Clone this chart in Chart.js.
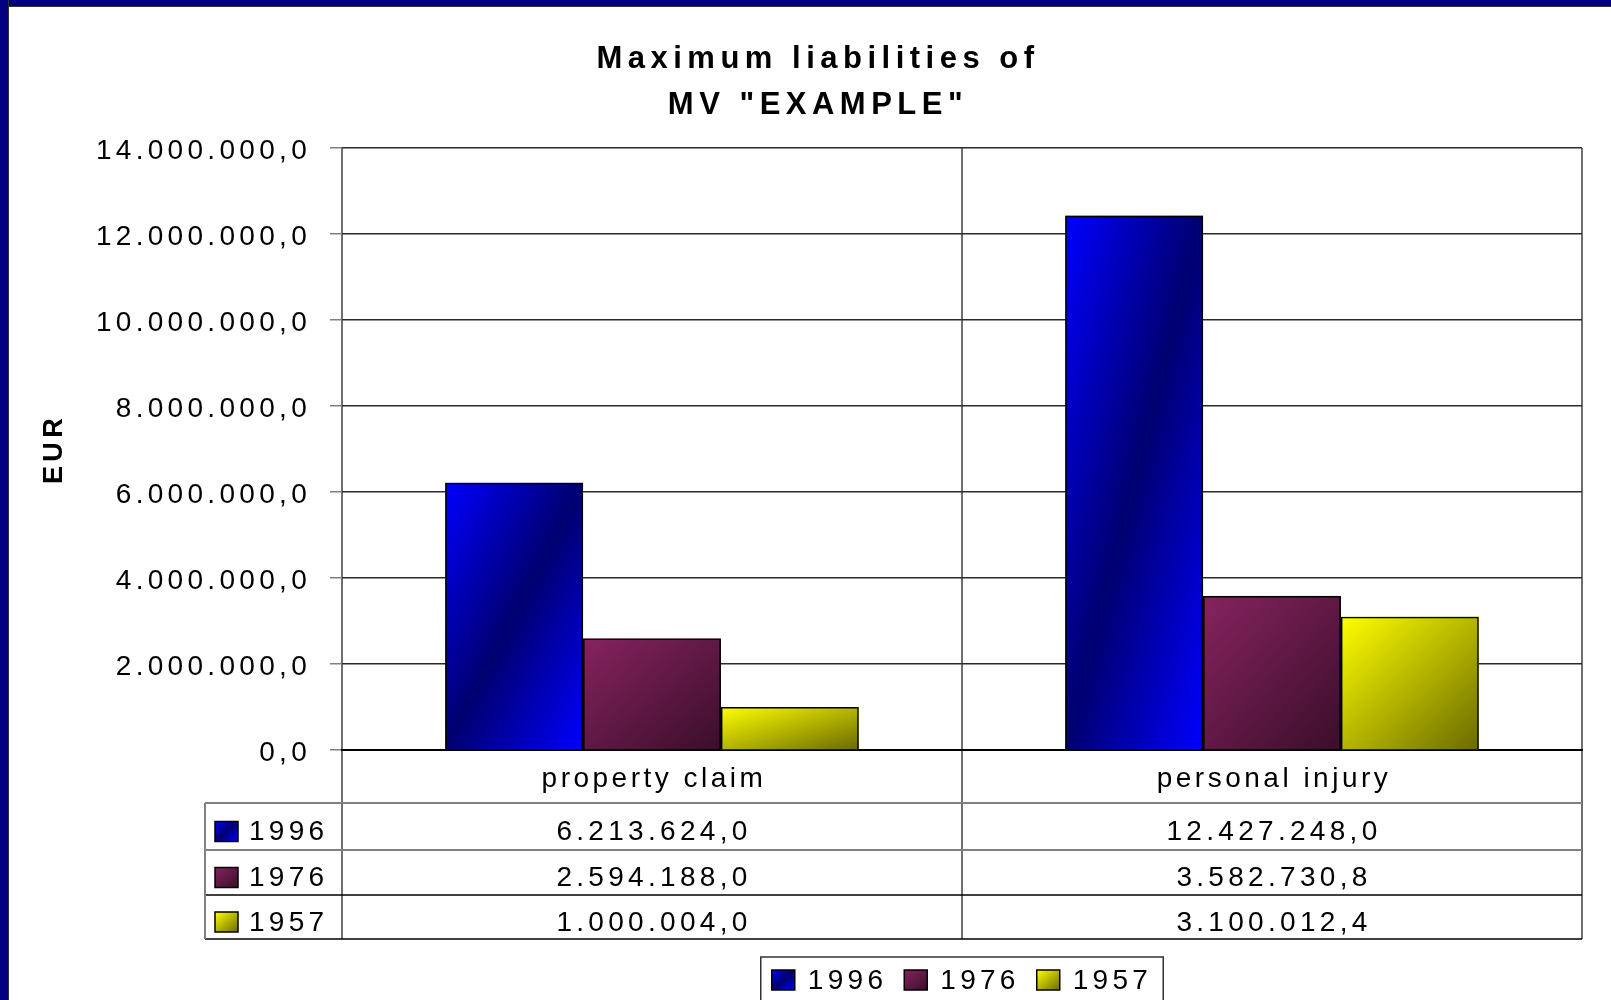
<!DOCTYPE html>
<html>
<head>
<meta charset="utf-8">
<title>Maximum liabilities of MV "EXAMPLE"</title>
<script src="https://cdn.jsdelivr.net/npm/chart.js@4.4.1/dist/chart.umd.min.js"></script>
<style>
    html, body { margin: 0; padding: 0; background: #fff; }
    #wrap { position: relative; width: 1611px; height: 1000px; overflow: hidden; }
    #liabilityChart { position: absolute; left: 0; top: 0; }
    #frameTop { position: absolute; left: 0; top: 0; width: 1611px; height: 6px; background: #000080; border-bottom: 1px solid #333; }
    #frameLeft { position: absolute; left: 0; top: 0; width: 8px; height: 1000px; background: #000080; border-right: 1px solid #333; }
</style>
</head>
<body>
<div id="wrap">
    <canvas id="liabilityChart" width="1611" height="1000"></canvas>
    <div id="frameTop"></div>
    <div id="frameLeft"></div>
</div>
<script>
// Chart data
const categories = ['property claim', 'personal injury'];
const seriesLabels = ['1996', '1976', '1957'];
const values1996 = [6213624.0, 12427248.0];
const values1976 = [2594188.0, 3582730.8];
const values1957 = [1000004.0, 3100012.4];
const yTickValues = [0, 2000000, 4000000, 6000000, 8000000, 10000000, 12000000, 14000000];

// Gradient stops per series (light -> dark)
const seriesShades = [
    ['#0000ff', '#000070', '#0000ff'],
    ['#86235f', '#3a0e2a'],
    ['#ffff00', '#6b6b00']
];

const FONT = '"Liberation Sans", Arial, sans-serif';
const NUM_SPACING = '4.3px';
const WORD_SPACING = '3.5px';
Chart.defaults.font.family = FONT;
Chart.defaults.font.size = 28;
Chart.defaults.color = '#000';

/**
 * Format numbers like 12.427.248,0
 */
function formatEUR(v) {
    const parts = Number(v).toFixed(1).split('.');
    return parts[0].replace(/\B(?=(\d{3})+(?!\d))/g, '.') + ',' + parts[1];
}

/**
 * Diagonal gradient stretched over a box (isolines along the box's anti-diagonal)
 */
function boxGradient(ctx, left, top, w, h, stops) {
    const cx = left + w / 2, cy = top + h / 2;
    const k = (w * h) / (w * w + h * h);
    const g = ctx.createLinearGradient(cx - h * k, cy - w * k, cx + h * k, cy + w * k);
    stops.forEach((c, i) => g.addColorStop(i / (stops.length - 1), c));
    return g;
}

// Wide letter spacing like the original
const spacingPlugin = {
    id: 'spacing',
    afterInit(chart) {
        // the title gets its own, wider spacing and sits a bit right of center
        const tb = chart.titleBlock;
        if (!tb) return;
        const draw = tb.draw.bind(tb);
        tb.draw = function() {
            const c = this.ctx;
            c.save();
            c.letterSpacing = '5.5px';
            c.translate(27, 0);
            draw();
            c.restore();
        };
    },
    beforeLayout(chart) { chart.ctx.letterSpacing = NUM_SPACING; },
    beforeDraw(chart) { chart.ctx.letterSpacing = NUM_SPACING; }
};

// Paint gradient fills under the bar outlines
const gradientBars = {
    id: 'gradientBars',
    beforeDatasetsDraw(chart) {
        const ctx = chart.ctx;
        ctx.save();
        chart.data.datasets.forEach((ds, di) => {
            chart.getDatasetMeta(di).data.forEach(bar => {
                const p = bar.getProps(['x', 'y', 'base', 'width'], true);
                const left = p.x - p.width / 2;
                const top = Math.min(p.y, p.base);
                const h = Math.abs(p.base - p.y);
                ctx.fillStyle = boxGradient(ctx, left, top, p.width, h, seriesShades[di]);
                ctx.fillRect(left, top, p.width, h);
            });
        });
        ctx.restore();
    }
};

function drawSwatch(ctx, x, cy, di) {
    const w = 23, h = 20;
    ctx.fillStyle = boxGradient(ctx, x, cy - h / 2, w, h, seriesShades[di]);
    ctx.fillRect(x, cy - h / 2, w, h);
    ctx.strokeStyle = '#000';
    ctx.lineWidth = 1.5;
    ctx.strokeRect(x, cy - h / 2, w, h);
}

// Data table under the axis plus the boxed legend
const dataTable = {
    id: 'dataTable',
    afterDraw(chart) {
        const {ctx, chartArea, scales: {x}} = chart;
        const bottom = chartArea.bottom;
        const tableLeft = 205;
        const rowLines = [bottom + 53, bottom + 100, bottom + 145, bottom + 189];
        const lineColors = ['#808080', '#808080', '#000', '#000'];

        ctx.save();
        ctx.font = '28px ' + FONT;
        ctx.fillStyle = '#000';
        ctx.textBaseline = 'middle';

        // category labels
        ctx.letterSpacing = WORD_SPACING;
        ctx.textAlign = 'center';
        categories.forEach((c, i) => {
            ctx.fillText(c, x.getPixelForValue(i) + 2, bottom + 29);
        });

        // table lines
        rowLines.forEach((y, i) => {
            ctx.beginPath();
            ctx.strokeStyle = lineColors[i];
            ctx.lineWidth = i < 2 ? 2 : 1.5;
            ctx.moveTo(tableLeft, y);
            ctx.lineTo(chartArea.right, y);
            ctx.stroke();
        });
        ctx.beginPath();
        ctx.strokeStyle = '#808080';
        ctx.lineWidth = 2;
        ctx.moveTo(tableLeft, rowLines[0]);
        ctx.lineTo(tableLeft, rowLines[3]);
        ctx.stroke();

        // rows
        ctx.letterSpacing = NUM_SPACING;
        chart.data.datasets.forEach((ds, di) => {
            const cy = (rowLines[di] + rowLines[di + 1]) / 2 + 6;
            drawSwatch(ctx, 215, cy - 1, di);
            ctx.fillStyle = '#000';
            ctx.textAlign = 'left';
            ctx.fillText(ds.label, 249, cy);
            ctx.textAlign = 'center';
            ds.data.forEach((v, i) => {
                ctx.fillText(formatEUR(v), x.getPixelForValue(i) + 2, cy);
            });
        });

        // legend box
        const center = (chartArea.left + chartArea.right) / 2;
        const items = chart.data.datasets.map(ds => ctx.measureText(ds.label).width);
        const gap = 17;
        const total = items.reduce((s, w) => s + 36 + w, 0) + gap * (items.length - 1);
        const boxW = total + 22;
        const boxLeft = center - boxW / 2;
        const legendY = 980;
        ctx.strokeStyle = '#333';
        ctx.lineWidth = 1.5;
        ctx.strokeRect(boxLeft, 957, boxW, 50);
        let cx = boxLeft + 11;
        chart.data.datasets.forEach((ds, di) => {
            drawSwatch(ctx, cx, legendY, di);
            ctx.fillStyle = '#000';
            ctx.textAlign = 'left';
            ctx.fillText(ds.label, cx + 36, legendY + 1);
            cx += 36 + items[di] + gap;
        });
        ctx.restore();
    }
};

function makeDataset(label, data) {
    return {
        label: label,
        data: data,
        backgroundColor: 'rgba(0,0,0,0)',
        borderColor: '#000',
        borderWidth: 1.5,
        categoryPercentage: 0.667,
        barPercentage: 1.0
    };
}

const ctx = document.getElementById('liabilityChart').getContext('2d');
new Chart(ctx, {
    type: 'bar',
    data: {
        labels: categories,
        datasets: [
            makeDataset(seriesLabels[0], values1996),
            makeDataset(seriesLabels[1], values1976),
            makeDataset(seriesLabels[2], values1957)
        ]
    },
    options: {
        responsive: false,
        animation: false,
        devicePixelRatio: 1,
        layout: {
            padding: { left: 0, right: 29, top: 0, bottom: 0 }
        },
        scales: {
            x: {
                offset: true,
                afterFit: scale => { scale.height = 250; },
                ticks: { display: false },
                grid: { offset: true, color: '#707070', lineWidth: 2, tickLength: 189 },
                border: { display: true, color: '#000', width: 2 }
            },
            y: {
                min: 0,
                max: 14000000,
                afterBuildTicks: scale => { scale.ticks = yTickValues.map(v => ({ value: v })); },
                afterFit: scale => { scale.width = 342; },
                ticks: { padding: 19, labelOffset: 3, color: '#000', callback: v => formatEUR(v) },
                grid: { color: '#2b2b2b', lineWidth: 1.5, tickLength: 12, tickColor: '#808080' },
                border: { display: false },
                title: {
                    display: true,
                    text: 'EUR',
                    color: '#000',
                    font: { size: 27, weight: 'bold' },
                    padding: { top: 38, bottom: 0 }
                }
            }
        },
        plugins: {
            legend: { display: false },
            tooltip: { enabled: false },
            title: {
                display: true,
                text: ['Maximum liabilities of', 'MV "EXAMPLE"'],
                color: '#000',
                font: { size: 31, weight: 'bold', lineHeight: 1.484 },
                padding: { top: 36.5, bottom: 19.5 }
            }
        }
    },
    plugins: [spacingPlugin, gradientBars, dataTable]
});
</script>
</body>
</html>
